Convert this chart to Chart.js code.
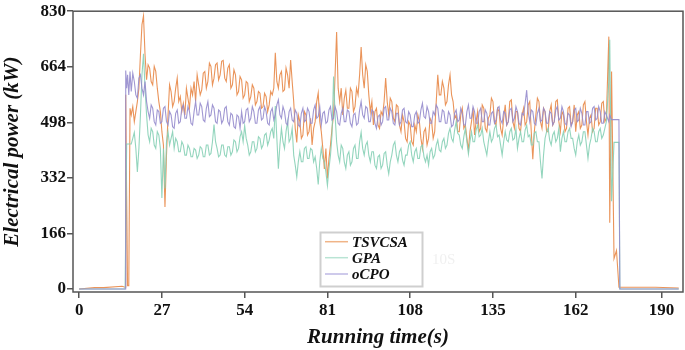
<!DOCTYPE html>
<html>
<head>
<meta charset="utf-8">
<script src="https://cdn.jsdelivr.net/npm/chart.js@4.4.0/dist/chart.umd.min.js"></script>
<style>
  html, body { margin: 0; padding: 0; background: #fff; }
  #wrap { width: 685px; height: 350px; }
</style>
</head>
<body>
<div id="wrap"><canvas id="myChart" width="685" height="350"></canvas></div>
<script>
// Running time (s) shared by the three series
const time = [0, 5, 8, 14, 15, 15.2, 15.5, 15.8, 16.2, 16.6,
  17, 17.5, 18, 18.5, 19, 19.5, 20, 20.5, 21, 21.5, 22, 22.5, 23, 23.5, 24, 24.5, 25, 25.5, 26, 26.5,
  27, 27.5, 28, 28.5, 29, 29.5, 30, 30.5, 31, 31.5, 32, 32.5, 33, 33.5, 34, 34.5, 35, 35.5, 36, 36.5,
  37, 37.5, 38, 38.5, 39, 39.5, 40, 40.5, 41, 41.5, 42, 42.5, 43, 43.5, 44, 44.5, 45, 45.5, 46, 46.5,
  47, 47.5, 48, 48.5, 49, 49.5, 50, 50.5, 51, 51.5, 52, 52.5, 53, 53.5, 54, 54.5, 55, 55.5, 56, 56.5,
  57, 57.5, 58, 58.5, 59, 59.5, 60, 60.5, 61, 61.5, 62, 62.5, 63, 63.5, 64, 64.5, 65, 65.5, 66, 66.5,
  67, 67.5, 68, 68.5, 69, 69.5, 70, 70.5, 71, 71.5, 72, 72.5, 73, 73.5, 74, 74.5, 75, 75.5, 76, 76.5,
  77, 77.5, 78, 78.5, 79, 79.5, 80, 80.5, 81, 81.5, 82, 82.5, 83, 83.5, 84, 84.5, 85, 85.5, 86, 86.5,
  87, 87.5, 88, 88.5, 89, 89.5, 90, 90.5, 91, 91.5, 92, 92.5, 93, 93.5, 94, 94.5, 95, 95.5, 96, 96.5,
  97, 97.5, 98, 98.5, 99, 99.5, 100, 100.5, 101, 101.5, 102, 102.5, 103, 103.5, 104, 104.5, 105, 105.5, 106, 106.5,
  107, 107.5, 108, 108.5, 109, 109.5, 110, 110.5, 111, 111.5, 112, 112.5, 113, 113.5, 114, 114.5, 115, 115.5, 116, 116.5,
  117, 117.5, 118, 118.5, 119, 119.5, 120, 120.5, 121, 121.5, 122, 122.5, 123, 123.5, 124, 124.5, 125, 125.5, 126, 126.5,
  127, 127.5, 128, 128.5, 129, 129.5, 130, 130.5, 131, 131.5, 132, 132.5, 133, 133.5, 134, 134.5, 135, 135.5, 136, 136.5,
  137, 137.5, 138, 138.5, 139, 139.5, 140, 140.5, 141, 141.5, 142, 142.5, 143, 143.5, 144, 144.5, 145, 145.5, 146, 146.5,
  147, 147.5, 148, 148.5, 149, 149.5, 150, 150.5, 151, 151.5, 152, 152.5, 153, 153.5, 154, 154.5, 155, 155.5, 156, 156.5,
  157, 157.5, 158, 158.5, 159, 159.5, 160, 160.5, 161, 161.5, 162, 162.5, 163, 163.5, 164, 164.5, 165, 165.5, 166, 166.5,
  167, 167.5, 168, 168.5, 169, 169.5, 170, 170.5, 171, 171.5, 172,
  172.8, 173.1, 173.7, 174.5, 175.3, 176.1, 176.4, 188, 195.6];

// Electrical power (kW)
const tsvcsa = [0, 4, 4, 8, 5, 580, 277, 10, 10, 540,
  520, 545, 500, 530, 560, 600, 700, 790, 816, 700, 625, 670, 660, 620, 610, 665, 650, 600, 560, 530,
  470, 430, 245, 400, 520, 610, 590, 545, 560, 600, 630, 560, 575, 530, 555, 520, 600, 570, 540, 600,
  580, 620, 560, 640, 610, 580, 595, 645, 650, 600, 620, 675, 665, 610, 630, 670, 675, 625, 640, 680,
  683, 630, 620, 660, 670, 600, 610, 655, 640, 580, 590, 635, 625, 570, 580, 620, 615, 560, 575, 610,
  600, 550, 560, 590, 585, 540, 545, 585, 575, 530, 550, 590, 580, 600, 706, 620, 600, 640, 650, 590,
  595, 660, 640, 600, 684, 620, 560, 480, 438, 520, 500, 450, 460, 530, 520, 460, 470, 510, 430, 480,
  500, 560, 586, 500, 470, 420, 359, 420, 330, 390, 430, 480, 520, 640, 768, 600, 560, 600, 520, 570,
  594, 540, 540, 600, 590, 530, 545, 600, 580, 640, 723, 640, 600, 670, 650, 580, 530, 560, 490, 530,
  540, 490, 480, 530, 520, 560, 630, 560, 520, 570, 560, 510, 500, 550, 545, 490, 470, 520, 500, 450,
  440, 500, 490, 440, 430, 490, 470, 520, 500, 450, 420, 470, 480, 430, 450, 510, 500, 450, 470, 560,
  640, 580, 580, 620, 600, 550, 560, 610, 640, 580, 560, 510, 520, 470, 470, 520, 540, 480, 490, 450,
  415, 470, 500, 540, 460, 500, 530, 470, 480, 550, 540, 480, 470, 510, 520, 570, 560, 500, 490, 540,
  530, 480, 460, 510, 550, 490, 500, 560, 565, 500, 480, 530, 530, 480, 470, 520, 540, 490, 500, 550,
  560, 470, 388, 470, 520, 570, 560, 500, 480, 540, 530, 470, 470, 530, 550, 490, 500, 560, 565, 500,
  470, 530, 520, 470, 480, 540, 545, 490, 500, 550, 470, 520, 530, 480, 490, 550, 560, 500, 460, 510,
  520, 470, 480, 540, 540, 490, 500, 555, 560, 500, 510,
  754, 198, 650, 91, 115, 5, 5, 5, 3];

const gpa = [0, 0, 0, 0, 0, 0, 433, 433, 433, 433,
  433, 450, 468, 420, 350, 420, 520, 640, 703, 600, 520, 460, 440, 480, 470, 430, 420, 470, 460, 420,
  272, 420, 300, 440, 470, 430, 450, 470, 420, 450, 440, 410, 410, 440, 430, 400, 400, 430, 420, 395,
  395, 420, 415, 390, 400, 425, 420, 395, 395, 430, 430, 400, 405, 440, 491, 440, 420, 395, 400, 430,
  430, 400, 395, 425, 425, 400, 410, 445, 440, 410, 420, 455, 470, 440, 488, 450, 430, 400, 410, 440,
  440, 410, 420, 455, 450, 420, 430, 460, 465, 430, 445, 470, 480, 450, 547, 450, 359, 430, 480, 440,
  420, 470, 500, 440, 450, 480, 400, 370, 335, 380, 410, 380, 380, 420, 425, 390, 390, 420, 415, 380,
  395, 360, 312, 380, 420, 390, 380, 350, 309, 360, 400, 460, 635, 520, 440, 400, 380, 430, 420, 380,
  360, 400, 410, 370, 380, 420, 430, 390, 390, 440, 468, 420, 400, 430, 440, 400, 380, 410, 410, 370,
  360, 395, 400, 360, 370, 405, 410, 370, 344, 380, 400, 430, 440, 400, 380, 410, 420, 385, 370, 400,
  400, 430, 440, 400, 380, 410, 420, 390, 390, 425, 430, 395, 380, 400, 370, 410, 420, 390, 400, 430,
  445, 415, 410, 440, 450, 420, 430, 465, 480, 450, 440, 475, 500, 465, 460, 430, 420, 455, 480, 440,
  403, 440, 470, 440, 440, 475, 490, 455, 460, 480, 440, 420, 400, 440, 470, 440, 450, 480, 490, 455,
  460, 430, 400, 440, 470, 445, 440, 470, 480, 445, 450, 480, 420, 450, 470, 440, 440, 475, 490, 455,
  460, 430, 430, 465, 470, 440, 440, 380, 330, 400, 450, 470, 480, 445, 430, 460, 470, 440, 450, 480,
  410, 450, 470, 440, 440, 470, 480, 450, 450, 420, 400, 440, 460, 430, 440, 470, 470, 430, 390, 430,
  450, 480, 470, 440, 440, 470, 480, 450, 460, 480, 500,
  620, 745, 262, 438, 438, 438, 0, 0, 0];

const ocpo = [0, 0, 0, 0, 0, 653, 600, 640, 580, 650,
  590, 645, 620, 580, 570, 630, 640, 600, 580, 620, 560, 530, 510, 550, 540, 500, 490, 535, 530, 495,
  500, 540, 545, 500, 490, 530, 520, 485, 480, 525, 535, 495, 500, 540, 550, 510, 510, 545, 530, 495,
  490, 530, 560, 520, 520, 555, 545, 505, 500, 540, 560, 515, 520, 550, 540, 500, 495, 535, 530, 495,
  505, 540, 545, 500, 490, 525, 520, 485, 480, 520, 515, 480, 530, 495, 500, 535, 540, 500, 510, 545,
  530, 495, 495, 535, 545, 505, 510, 545, 530, 495, 490, 530, 540, 505, 520, 550, 565, 520, 510, 545,
  530, 495, 490, 530, 540, 505, 500, 535, 525, 490, 485, 525, 540, 500, 505, 540, 530, 495, 495, 535,
  550, 510, 515, 545, 490, 525, 530, 495, 500, 535, 545, 505, 510, 545, 530, 495, 490, 525, 540, 500,
  500, 535, 530, 495, 485, 520, 525, 490, 495, 535, 560, 520, 510, 545, 540, 500, 500, 535, 530, 495,
  480, 515, 520, 490, 500, 540, 545, 505, 505, 540, 530, 495, 490, 525, 525, 490, 500, 535, 540, 500,
  495, 530, 520, 485, 485, 520, 530, 495, 500, 535, 555, 515, 510, 545, 530, 495, 495, 530, 520, 550,
  540, 500, 500, 535, 530, 495, 495, 530, 520, 485, 490, 525, 535, 500, 505, 540, 525, 490, 490, 530,
  550, 510, 510, 545, 530, 495, 495, 530, 540, 500, 500, 535, 525, 490, 490, 525, 530, 495, 505, 540,
  545, 505, 495, 530, 525, 490, 500, 535, 540, 500, 510, 545, 530, 495, 490, 525, 520, 555, 594, 530,
  500, 535, 530, 495, 490, 525, 540, 500, 505, 540, 530, 495, 495, 530, 525, 490, 500, 535, 545, 505,
  510, 545, 530, 495, 490, 525, 520, 485, 500, 535, 540, 500, 505, 540, 525, 490, 490, 530, 530, 495,
  500, 540, 545, 505, 510, 545, 530, 495, 495, 530, 520,
  500, 520, 506, 506, 506, 506, 0, 0, 0];

// Tick labels
const xTicks = [0, 27, 54, 81, 108, 135, 162, 190];
const yTicks = [0, 166, 332, 498, 664, 830];

const seriesNames = ['TSVCSA', 'GPA', 'oCPO'];
const seriesColors = ['rgba(232,136,72,0.9)', 'rgba(135,208,182,0.9)', 'rgba(150,140,205,0.9)'];
const legendColors = ['rgba(240,180,135,1)', 'rgba(185,228,212,1)', 'rgba(190,184,228,1)'];

const serif = "'Liberation Serif', 'Times New Roman', serif";

function toPoints(values) {
  return values.map((v, i) => ({ x: time[i], y: v }));
}

// Box around the plot, legend and the faint watermark
const framePlugin = {
  id: 'frame',
  afterDraw(chart) {
    const ctx = chart.ctx;
    const a = chart.chartArea;
    ctx.save();
    ctx.strokeStyle = '#555';
    ctx.lineWidth = 1.5;
    ctx.strokeRect(a.left, a.top, a.right - a.left, a.bottom - a.top);

    // watermark
    ctx.fillStyle = '#f0f0f0';
    ctx.font = '15px ' + serif;
    ctx.textBaseline = 'middle';
    ctx.fillText('10S', 432, 260);

    // legend
    const lx = 320.5, ly = 232.5, lw = 102, lh = 54;
    ctx.fillStyle = 'rgba(255,255,255,0.85)';
    ctx.fillRect(lx, ly, lw, lh);
    ctx.strokeStyle = '#cfcfcf';
    ctx.lineWidth = 2;
    ctx.strokeRect(lx, ly, lw, lh);
    const rows = [241.7, 257.7, 274];
    ctx.font = 'italic bold 15px ' + serif;
    seriesNames.forEach((name, i) => {
      ctx.strokeStyle = legendColors[i];
      ctx.lineWidth = 1.5;
      ctx.beginPath();
      ctx.moveTo(325, rows[i]);
      ctx.lineTo(348, rows[i]);
      ctx.stroke();
      ctx.fillStyle = '#111';
      ctx.fillText(name, 352, rows[i] + 1);
    });
    ctx.restore();
  }
};

const ctx = document.getElementById('myChart');
new Chart(ctx, {
  type: 'line',
  data: {
    datasets: [
      { label: seriesNames[0], data: toPoints(tsvcsa), borderColor: seriesColors[0], order: 3 },
      { label: seriesNames[1], data: toPoints(gpa), borderColor: seriesColors[1], order: 2 },
      { label: seriesNames[2], data: toPoints(ocpo), borderColor: seriesColors[2], order: 1 }
    ]
  },
  options: {
    responsive: false,
    animation: false,
    devicePixelRatio: 1,
    elements: {
      point: { radius: 0 },
      line: { borderWidth: 1.1, tension: 0 }
    },
    layout: { padding: { top: 7, right: 2, left: 0, bottom: 0 } },
    plugins: {
      legend: { display: false },
      tooltip: { enabled: false }
    },
    scales: {
      x: {
        type: 'linear',
        min: -2,
        max: 197,
        afterBuildTicks: scale => { scale.ticks = xTicks.map(v => ({ value: v })); },
        afterFit: scale => { scale.height = 58; },
        grid: { drawOnChartArea: false, drawTicks: true, tickLength: 6, color: '#555', lineWidth: 1.5 },
        border: { display: false },
        ticks: {
          color: '#111',
          padding: 2,
          maxRotation: 0,
          autoSkip: false,
          font: { size: 17, weight: 'bold', family: serif }
        },
        title: {
          display: true,
          text: 'Running time(s)',
          color: '#111',
          padding: 0,
          font: { size: 21, weight: 'bold', style: 'italic', family: serif }
        }
      },
      y: {
        min: -9,
        max: 830,
        afterBuildTicks: scale => { scale.ticks = yTicks.map(v => ({ value: v })); },
        afterFit: scale => { scale.width = 73; },
        grid: { drawOnChartArea: false, drawTicks: true, tickLength: 6, color: '#555', lineWidth: 1.5 },
        border: { display: false },
        ticks: {
          color: '#111',
          padding: 1,
          autoSkip: false,
          font: { size: 17, weight: 'bold', family: serif }
        },
        title: {
          display: true,
          text: 'Electrical power (kW)',
          color: '#111',
          padding: 0,
          font: { size: 21, weight: 'bold', style: 'italic', family: serif }
        }
      }
    }
  },
  plugins: [framePlugin]
});
</script>
</body>
</html>
